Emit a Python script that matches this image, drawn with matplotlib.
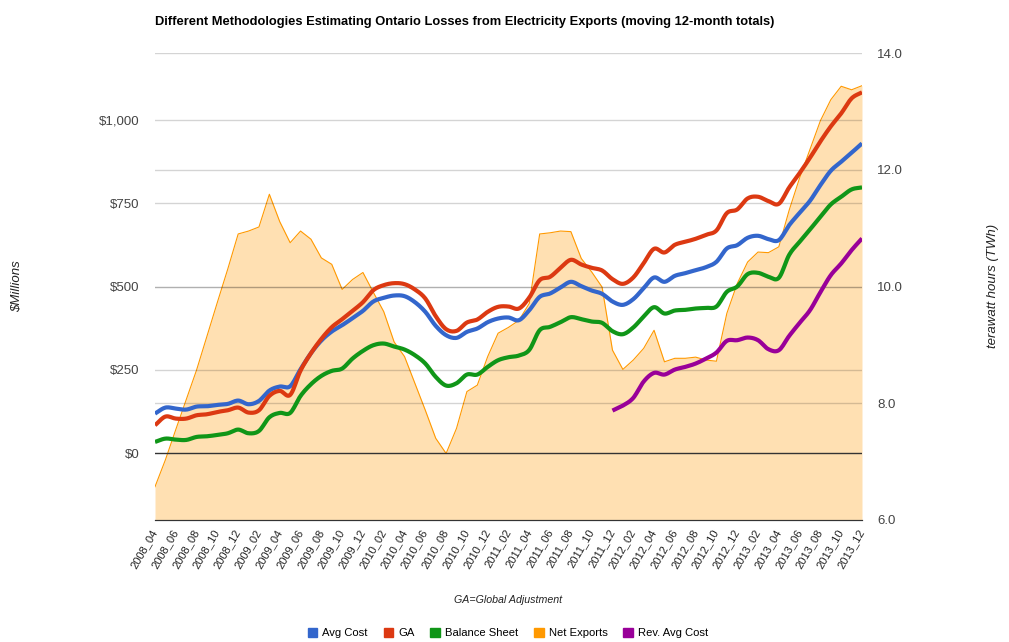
import numpy as np
import pandas as pd
import matplotlib
matplotlib.use("Agg")
import matplotlib.pyplot as plt
from matplotlib.patches import Patch

plt.rcParams['font.family'] = ['Liberation Sans', 'DejaVu Sans']

# months 2008_04 .. 2013_12
months = [p.strftime("%Y_%m") for p in pd.period_range("2008-04", "2013-12", freq="M")]

# $ millions (left axis)
avg_cost = [119, 137, 134, 131, 140, 141, 145, 148, 158, 147, 157, 188, 200, 201, 252, 300,
            338, 365, 384, 405, 427, 455, 466, 473, 471, 453, 424, 382, 354, 346, 364, 374,
            393, 404, 407, 399, 429, 469, 479, 497, 514, 501, 488, 478, 455, 445, 462, 495,
            527, 514, 532, 540, 549, 558, 574, 614, 624, 646, 652, 642, 639, 684, 721, 757,
            804, 847, 874, 901, 929]
ga = [84, 110, 104, 104, 114, 117, 124, 129, 137, 122, 129, 172, 187, 175, 248, 300,
      343, 378, 402, 427, 453, 489, 504, 510, 507, 491, 464, 411, 372, 367, 392, 401,
      424, 439, 440, 434, 467, 519, 529, 556, 580, 566, 556, 548, 522, 508, 527, 570,
      613, 602, 625, 634, 643, 655, 668, 720, 731, 764, 769, 756, 748, 797, 840, 886,
      935, 980, 1019, 1064, 1082]
balance_sheet = [34, 44, 41, 40, 49, 51, 55, 60, 71, 60, 67, 108, 121, 121, 172, 207,
                 232, 247, 254, 284, 307, 324, 329, 320, 311, 294, 269, 229, 203, 210, 236, 236,
                 259, 279, 288, 293, 310, 369, 379, 393, 408, 402, 395, 391, 366, 357, 377, 410,
                 438, 419, 428, 430, 434, 436, 440, 484, 500, 537, 541, 529, 526, 595, 634, 671,
                 709, 746, 769, 791, 797]
rev_avg_cost = [None] * 44 + [128, 143, 166, 215, 241, 236, 251, 259, 269, 284, 302, 337,
                              339, 347, 339, 312, 309, 352, 391, 429, 483, 534, 569, 609, 644]

# TWh (right axis)
net_exports = [6.57, 7.03, 7.55, 8.06, 8.57, 9.15, 9.73, 10.30, 10.90, 10.95, 11.02, 11.58,
               11.11, 10.75, 10.95, 10.81, 10.49, 10.38, 9.95, 10.12, 10.24, 9.90, 9.57, 9.05,
               8.80, 8.34, 7.88, 7.40, 7.14, 7.57, 8.20, 8.31, 8.80, 9.20, 9.30, 9.42,
               9.71, 10.90, 10.92, 10.95, 10.94, 10.48, 10.25, 9.99, 8.91, 8.58, 8.74, 8.94,
               9.25, 8.71, 8.77, 8.77, 8.79, 8.74, 8.72, 9.54, 10.05, 10.42, 10.59, 10.58,
               10.68, 11.31, 11.86, 12.35, 12.84, 13.20, 13.43, 13.37, 13.44]

left_ticks = [0, 250, 500, 750, 1000]
left_labels = ["$0", "$250", "$500", "$750", "$1,000"]
right_ticks = [6, 8, 10, 12, 14]
right_labels = ["6.0", "8.0", "10.0", "12.0", "14.0"]


def smooth(x, y, n=10):
    # catmull-rom through the points, like the "function" curve
    x = np.asarray(x, float)
    y = np.asarray(y, float)
    xp = np.concatenate([[2 * x[0] - x[1]], x, [2 * x[-1] - x[-2]]])
    yp = np.concatenate([[2 * y[0] - y[1]], y, [2 * y[-1] - y[-2]]])
    t = np.linspace(0, 1, n, endpoint=False)
    xs, ys = [], []
    for i in range(1, len(xp) - 2):
        for arr, out in ((xp, xs), (yp, ys)):
            p0, p1, p2, p3 = arr[i - 1], arr[i], arr[i + 1], arr[i + 2]
            out.append(0.5 * (2 * p1 + (-p0 + p2) * t + (2 * p0 - 5 * p1 + 4 * p2 - p3) * t ** 2
                              + (-p0 + 3 * p1 - 3 * p2 + p3) * t ** 3))
    xs.append([x[-1]])
    ys.append([y[-1]])
    return np.concatenate(xs), np.concatenate(ys)


W, H = 1009, 642
fig = plt.figure(figsize=(W / 100, H / 100), dpi=100)
ax = fig.add_axes([155 / W, 1 - 520 / H, 707 / W, 467 / H])
axr = ax.twinx()
ax.set_zorder(2)
axr.set_zorder(1)
ax.patch.set_visible(False)

x = np.arange(len(months))
grid_kw = dict(color='black', alpha=0.17, lw=1)

# net exports area on the right scale
axr.fill_between(x, 6, net_exports, color='#ff9900', alpha=0.3, lw=0)
axr.plot(x, net_exports, color='#ff9900', lw=0.8)
axr.set_ylim(6, 14)
axr.set_yticks(right_ticks)
axr.set_yticklabels(right_labels)
for v in right_ticks[1:]:
    axr.axhline(v, **grid_kw)

# money lines on the left scale
series = [(avg_cost, '#3366cc', 'Avg Cost'), (ga, '#dc3912', 'GA'),
          (balance_sheet, '#109618', 'Balance Sheet')]
for vals, col, lab in series:
    sx, sy = smooth(x, vals)
    ax.plot(sx, sy, color=col, lw=3, solid_capstyle='butt')
rev = np.array(rev_avg_cost, dtype=float)
ok = ~np.isnan(rev)
sx, sy = smooth(x[ok], rev[ok])
ax.plot(sx, sy, color='#990099', lw=3, solid_capstyle='butt')

ax.set_ylim(-200, 1200)
ax.set_xlim(0, len(months) - 1)
ax.set_yticks(left_ticks)
ax.set_yticklabels(left_labels)
for v in left_ticks[1:]:
    ax.axhline(v, zorder=0.5, **grid_kw)
ax.axhline(0, color='#333333', lw=1, zorder=1)

ax.set_xticks(x[::2])
ax.set_xticklabels(months[::2], rotation=60, ha='right', va='center',
                   rotation_mode='anchor', fontsize=8, color='#222222')

for a in (ax, axr):
    for s in ('top', 'left', 'right'):
        a.spines[s].set_visible(False)
    a.spines['bottom'].set_color('#333333')
    a.tick_params(length=0, colors='#444444', labelsize=9.5)
ax.tick_params(axis='y', pad=11)
axr.tick_params(axis='y', pad=11)
ax.tick_params(axis='x', pad=7, labelsize=8, colors='#222222')

fig.text(155 / W, 1 - 22 / H,
         "Different Methodologies Estimating Ontario Losses from Electricity Exports (moving 12-month totals)",
         ha='left', va='center', fontsize=9.3, fontweight='bold', color='#000000')
fig.text(17 / W, 1 - 286 / H, "$Millions", rotation=90, ha='center', va='center',
         style='italic', fontsize=9.5, color='#222222')
fig.text(993 / W, 1 - 286 / H, "terawatt hours (TWh)", rotation=90, ha='center', va='center',
         style='italic', fontsize=9.5, color='#222222')
fig.text(508 / W, 1 - 600 / H, "GA=Global Adjustment", ha='center', va='center',
         style='italic', fontsize=7.7, color='#222222')

handles = [Patch(color='#3366cc'), Patch(color='#dc3912'), Patch(color='#109618'),
           Patch(color='#ff9900'), Patch(color='#990099')]
labels = ['Avg Cost', 'GA', 'Balance Sheet', 'Net Exports', 'Rev. Avg Cost']
fig.legend(handles, labels, loc='center', bbox_to_anchor=(508 / W, 1 - 633 / H), ncol=5,
           frameon=False, fontsize=8.1, handlelength=0.85, handleheight=0.85,
           handletextpad=0.45, columnspacing=1.4)

fig.savefig("out.png", dpi=100)
